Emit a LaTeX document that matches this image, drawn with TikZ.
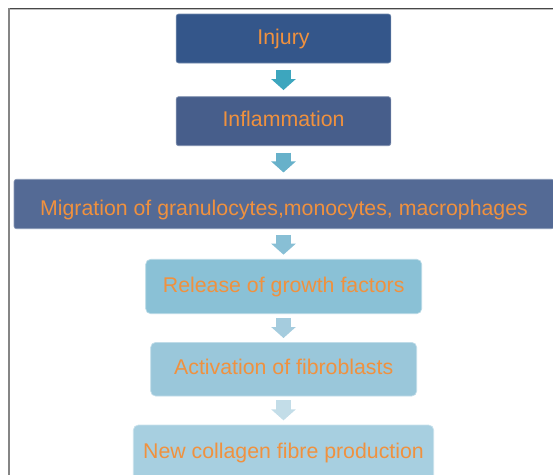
\documentclass[tikz,border=0pt]{standalone}
\usepackage{fontspec}
\setmainfont{Liberation Sans}
\usetikzlibrary{arrows.meta}

\definecolor{txtorange}{HTML}{F0913E}
\definecolor{boxA}{HTML}{34568A}
\definecolor{boxB}{HTML}{475E8B}
\definecolor{boxC}{HTML}{546A95}
\definecolor{boxD}{HTML}{8AC1D6}
\definecolor{boxE}{HTML}{9AC7DA}
\definecolor{boxF}{HTML}{A7CFE0}
\definecolor{arrA}{HTML}{3DA6BE}
\definecolor{arrB}{HTML}{67B1CA}
\definecolor{arrC}{HTML}{88BFD5}
\definecolor{arrD}{HTML}{A5CCDE}
\definecolor{arrE}{HTML}{C3DDE8}

\tikzset{
  stepbox/.style={rectangle, inner sep=0pt, text=txtorange,
    font=\fontsize{21.3}{24}\selectfont, line width=0.7pt,
    text height=15.7pt, text depth=4.5pt},
  darkbox/.style={stepbox, rounded corners=2.5pt, fill=#1, draw=#1!70!white},
  lightbox/.style={stepbox, rounded corners=5pt, fill=#1, draw=#1!60!white},
  flowarrow/.style={draw=#1, line width=15pt,
    -{Triangle[width=24pt,length=11pt]}},
}

\begin{document}
\begin{tikzpicture}[x=1pt,y=-1pt]
  \useasboundingbox (0,0) rectangle (553,474);
  \begin{scope}
    \clip (0,0) rectangle (553,474);

    % frame lines
    \draw[line width=1.3pt, color=black!72] (8,8.4) -- (560,8.4);
    \draw[line width=0.8pt, color=black!25] (10,9.8) -- (560,9.8);
    \draw[line width=2pt, color=black!48] (9,8) -- (9,480);

    % process steps
    \node[darkbox=boxA, minimum width=214.7pt, minimum height=49pt]
      (injury) at (283.5,38.5) {Injury};
    \node[darkbox=boxB, minimum width=214.7pt, minimum height=49pt]
      (inflam) at (283.5,121.2) {Inflammation};
    \node[darkbox=boxC, minimum width=540pt, minimum height=49.4pt,
          text height=28pt, text depth=4.4pt]
      (migr) at (284,204) {Migration of granulocytes,monocytes, macrophages};
    \node[lightbox=boxD, minimum width=276pt, minimum height=54.4pt]
      (release) at (283.7,286.5) {Release of growth factors};
    \node[lightbox=boxE, minimum width=266pt, minimum height=53.7pt]
      (activ) at (283.7,369.2) {Activation of fibroblasts};
    \node[lightbox=boxF, minimum width=300.4pt, minimum height=57pt,
          text height=13.7pt, text depth=4.5pt]
      (collagen) at (283.5,453.5) {New collagen fibre production};

    % block arrows between the steps
    \draw[flowarrow=arrA] ([yshift=-6.3pt]injury.south)
      -- ([yshift=6.3pt]injury.south |- inflam.north);
    \draw[flowarrow=arrB] ([yshift=-6.5pt]inflam.south)
      -- ([yshift=6.5pt]inflam.south |- migr.north);
    \draw[flowarrow=arrC] ([yshift=-5.8pt]injury.south |- migr.south)
      -- ([yshift=4.3pt]injury.south |- release.north);
    \draw[flowarrow=arrD] ([yshift=-4pt]injury.south |- release.south)
      -- ([yshift=4pt]injury.south |- activ.north);
    \draw[flowarrow=arrE] ([yshift=-4pt]injury.south |- activ.south)
      -- ([yshift=4.3pt]injury.south |- collagen.north);
  \end{scope}
\end{tikzpicture}
\end{document}
